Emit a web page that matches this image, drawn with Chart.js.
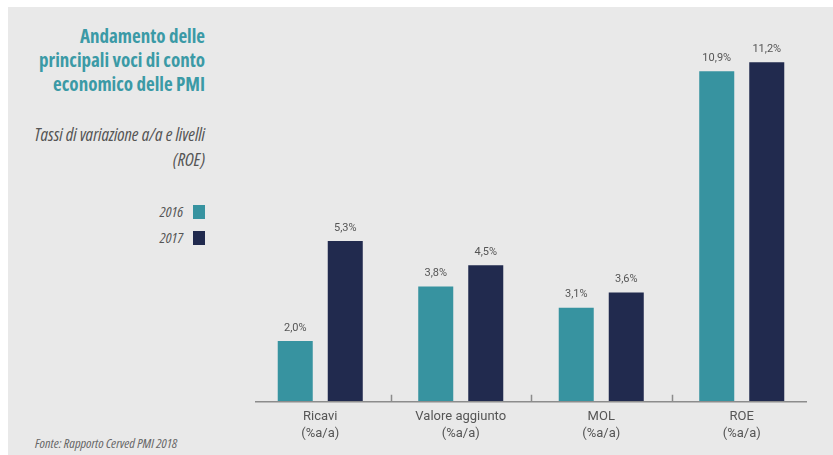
<!DOCTYPE html>
<html lang="it">
<head>
<meta charset="utf-8">
<title>Andamento delle principali voci di conto economico delle PMI</title>
<script src="https://cdn.jsdelivr.net/npm/chart.js@4.4.1/dist/chart.umd.min.js"></script>
<style>
  html, body { margin: 0; padding: 0; background: #fff; }
  .frame { position: relative; width: 833px; height: 455px; overflow: hidden; }
  .panel { position: absolute; left: 8px; top: 7px; right: 0; bottom: 0; background: #e9e9e9; }
  #chart { position: absolute; left: 0; top: 0; }
  .side { position: absolute; right: 628px; text-align: right; font-family: "Open Sans", sans-serif; font-stretch: 75%; white-space: nowrap; }
  .title { top: 24px; font-size: 19px; line-height: 24px; font-weight: 700; color: #3b9aa6; }
  .subtitle { top: 122px; font-size: 18px; line-height: 25px; font-style: italic; color: #555; }
  .legend { top: 198px; font-size: 15px; line-height: 26px; font-style: italic; color: #555; }
  .legend span.sw { display: inline-block; width: 12px; height: 14px; margin-left: 10px; vertical-align: -2px; }
  .source { position: absolute; left: 35px; top: 434px; font-family: "Open Sans", sans-serif; font-stretch: 75%; font-size: 13.5px; font-style: italic; color: #666; white-space: nowrap; }
</style>
</head>
<body>
<div class="frame">
  <div class="panel"></div>
  <div class="side title">Andamento delle<br>principali voci di conto<br>economico delle PMI</div>
  <div class="side subtitle">Tassi di variazione a/a e livelli<br>(ROE)</div>
  <div class="side legend" id="legend"></div>
  <div class="source">Fonte: Rapporto Cerved PMI 2018</div>
  <canvas id="chart" width="833" height="455"></canvas>
</div>
<script>
const categories = [['Ricavi', '(%a/a)'], ['Valore aggiunto', '(%a/a)'], ['MOL', '(%a/a)'], ['ROE', '(%a/a)']];
const seriesNames = ['2016', '2017'];
const values2016 = [2.0, 3.8, 3.1, 10.9];
const values2017 = [5.3, 4.5, 3.6, 11.2];
const seriesColors = ['#3793a0', '#212a4e'];

// legend rows on the left side
document.getElementById('legend').innerHTML = seriesNames
  .map((name, i) => `${name}<span class="sw" style="background:${seriesColors[i]}"></span>`)
  .join('<br>');

const fmt = v => v.toFixed(1).replace('.', ',') + '%';

// baseline with short upward ticks between the categories
const axisPlugin = {
  id: 'axisLine',
  afterDatasetsDraw(chart) {
    const { ctx, chartArea, scales: { x } } = chart;
    const y0 = chartArea.bottom;
    ctx.save();
    ctx.strokeStyle = '#8c8c8c';
    ctx.lineWidth = 1.5;
    ctx.beginPath();
    ctx.moveTo(chartArea.left + 5, y0);
    ctx.lineTo(chartArea.right - 5, y0);
    for (let i = 0; i < categories.length - 1; i++) {
      const tx = Math.round((x.getPixelForValue(i) + x.getPixelForValue(i + 1)) / 2) + 0.5;
      ctx.moveTo(tx, y0);
      ctx.lineTo(tx, y0 - 7);
    }
    ctx.stroke();
    ctx.restore();
  }
};

// value labels above each bar
const valueLabels = {
  id: 'valueLabels',
  afterDatasetsDraw(chart) {
    const { ctx } = chart;
    ctx.save();
    ctx.font = '11px Roboto, sans-serif';
    ctx.fillStyle = '#555';
    ctx.textAlign = 'center';
    ctx.textBaseline = 'middle';
    chart.data.datasets.forEach((ds, di) => {
      chart.getDatasetMeta(di).data.forEach((bar, i) => {
        ctx.fillText(fmt(ds.data[i]), bar.x, bar.y - 13);
      });
    });
    ctx.restore();
  }
};

new Chart(document.getElementById('chart'), {
  type: 'bar',
  data: {
    labels: categories,
    datasets: [
      { label: seriesNames[0], data: values2016, backgroundColor: seriesColors[0] },
      { label: seriesNames[1], data: values2017, backgroundColor: seriesColors[1] }
    ]
  },
  options: {
    responsive: false,
    animation: false,
    events: [],
    layout: { padding: { left: 250, right: 21, top: 38, bottom: 6.5 } },
    categoryPercentage: 0.712,
    barPercentage: 0.7,
    plugins: { legend: { display: false }, tooltip: { enabled: false } },
    scales: {
      x: {
        grid: { display: false, drawTicks: false },
        border: { display: false },
        ticks: {
          padding: 6.5,
          color: '#555',
          font: { family: 'Roboto, sans-serif', size: 13, lineHeight: 1.3 },
          maxRotation: 0
        }
      },
      y: { display: false, min: 0, max: 12 }
    }
  },
  plugins: [axisPlugin, valueLabels]
});
</script>
</body>
</html>
